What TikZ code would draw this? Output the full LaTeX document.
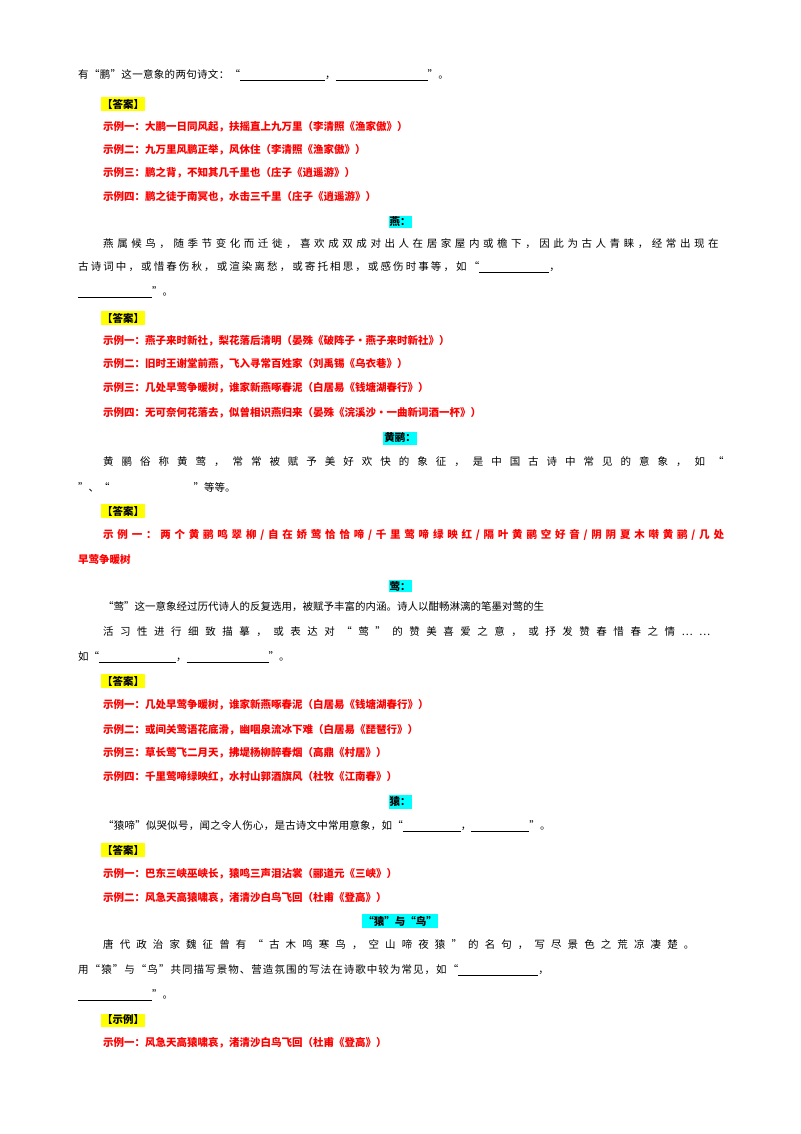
\documentclass[tikz,border=0pt]{standalone}
\usepackage{fontspec}
\setmainfont{Noto Sans CJK SC}
\definecolor{ans}{RGB}{255,0,0}
\definecolor{hy}{RGB}{255,255,0}
\definecolor{hc}{RGB}{0,255,255}
\newcommand\ls[1]{\addfontfeature{LetterSpace=#1}}
\newcommand\bl[1]{\rule[-1.5pt]{#1pt}{0.5pt}}
\tikzset{
 tx/.style={anchor=west,inner sep=0pt,font=\fontsize{10.5}{12}\selectfont},
 rd/.style={tx,text=ans,font=\fontsize{10.5}{12}\selectfont\bfseries},
 ansbox/.style={anchor=west,inner xsep=1pt,inner ysep=1.5pt,fill=hy,font=\fontsize{10.5}{12}\selectfont\bfseries},
 hd/.style={inner xsep=1pt,inner ysep=1.5pt,fill=hc,font=\fontsize{10.5}{12}\selectfont\bfseries}
}
\begin{document}
\begin{tikzpicture}[x=1pt,y=-1pt]
\useasboundingbox[fill=white] (0,0) rectangle (800,1134);
\node[tx] (l1) at (78,75) {\ls{3}有“鹏”这一意象的两句诗文：“\bl{85}，\bl{92}”。};
\node[ansbox] (a1) at (101,104) {【答案】};
\node[rd] (r11) at (103,127) {示例一：大鹏一日同风起，扶摇直上九万里（李清照《渔家傲》）};
\node[rd] (r12) at (103,150) {示例二：九万里风鹏正举，风休住（李清照《渔家傲》）};
\node[rd] (r13) at (103,173) {示例三：鹏之背，不知其几千里也（庄子《逍遥游》）};
\node[rd] (r14) at (103,197) {示例四：鹏之徒于南冥也，水击三千里（庄子《逍遥游》）};
\node[hd] (h2) at (400,222) {燕：};
\node[tx] (p21) at (103,244) {\ls{34}燕属候鸟，随季节变化而迁徙，喜欢成双成对出人在居家屋内或檐下，因此为古人青睐，经常出现在};
\node[tx] (p22) at (78,267) {\ls{20}古诗词中，或惜春伤秋，或渲染离愁，或寄托相思，或感伤时事等，如“\bl{70}，};
\node[tx] (p23) at (78,292) {\bl{74}”。};
\node[ansbox] (a2) at (101,318) {【答案】};
\node[rd] (r21) at (103,341) {示例一：燕子来时新社，梨花落后清明（晏殊《破阵子·燕子来时新社》）};
\node[rd] (r22) at (103,364) {示例二：旧时王谢堂前燕，飞入寻常百姓家（刘禹锡《乌衣巷》）};
\node[rd] (r23) at (103,388) {示例三：几处早莺争暖树，谁家新燕啄春泥（白居易《钱塘湖春行》）};
\node[rd] (r24) at (103,413) {示例四：无可奈何花落去，似曾相识燕归来（晏殊《浣溪沙·一曲新词酒一杯》）};
\node[hd] (h3) at (400,438) {黄鹂：};
\node[tx] (p31) at (103,462) {\ls{76}黄鹂俗称黄莺，常常被赋予美好欢快的象征，是中国古诗中常见的意象，如“};
\node[tx] (p32) at (78,487) {”、“\hspace{84pt}”等等。};
\node[ansbox] (a3) at (101,511) {【答案】};
\node[rd] (r31) at (103,535) {\ls{36}示例一：两个黄鹂鸣翠柳/自在娇莺恰恰啼/千里莺啼绿映红/隔叶黄鹂空好音/阴阴夏木啭黄鹂/几处};
\node[rd] (r32) at (78,560) {早莺争暖树};
\node[hd] (h4) at (400,586) {莺：};
\node[tx] (p41) at (103,607) {“莺”这一意象经过历代诗人的反复选用，被赋予丰富的内涵。诗人以酣畅淋漓的笔墨对莺的生};
\node[tx] (p42) at (103,632) {\ls{62}活习性进行细致描摹，或表达对“莺”的赞美喜爱之意，或抒发赞春惜春之情……};
\node[tx] (p43) at (78,657) {如“\bl{77}，\bl{82}”。};
\node[ansbox] (a4) at (101,681) {【答案】};
\node[rd] (r41) at (103,705) {示例一：几处早莺争暖树，谁家新燕啄春泥（白居易《钱塘湖春行》）};
\node[rd] (r42) at (103,730) {示例二：或间关莺语花底滑，幽咽泉流冰下难（白居易《琵琶行》）};
\node[rd] (r43) at (103,753) {示例三：草长莺飞二月天，拂堤杨柳醉春烟（高鼎《村居》）};
\node[rd] (r44) at (103,777) {示例四：千里莺啼绿映红，水村山郭酒旗风（杜牧《江南春》）};
\node[hd] (h5) at (400,802) {猿：};
\node[tx] (p51) at (103,826) {\ls{2}“猿啼”似哭似号，闻之令人伤心，是古诗文中常用意象，如“\bl{58}，\bl{58}”。};
\node[ansbox] (a5) at (101,850) {【答案】};
\node[rd] (r51) at (103,874) {示例一：巴东三峡巫峡长，猿鸣三声泪沾裳（郦道元《三峡》）};
\node[rd] (r52) at (103,898) {示例二：风急天高猿啸哀，渚清沙白鸟飞回（杜甫《登高》）};
\node[hd] (h6) at (400,921) {“猿”与“鸟”};
\node[tx] (p61) at (103,945) {\ls{58}唐代政治家魏征曾有“古木鸣寒鸟，空山啼夜猿”的名句，写尽景色之荒凉凄楚。};
\node[tx] (p62) at (78,970) {\ls{10}用“猿”与“鸟”共同描写景物、营造氛围的写法在诗歌中较为常见，如“\bl{80}，};
\node[tx] (p63) at (78,995) {\bl{74}”。};
\node[ansbox] (a6) at (101,1020) {【示例】};
\node[rd] (r61) at (103,1043) {示例一：风急天高猿啸哀，渚清沙白鸟飞回（杜甫《登高》）};
\end{tikzpicture}
\end{document}
